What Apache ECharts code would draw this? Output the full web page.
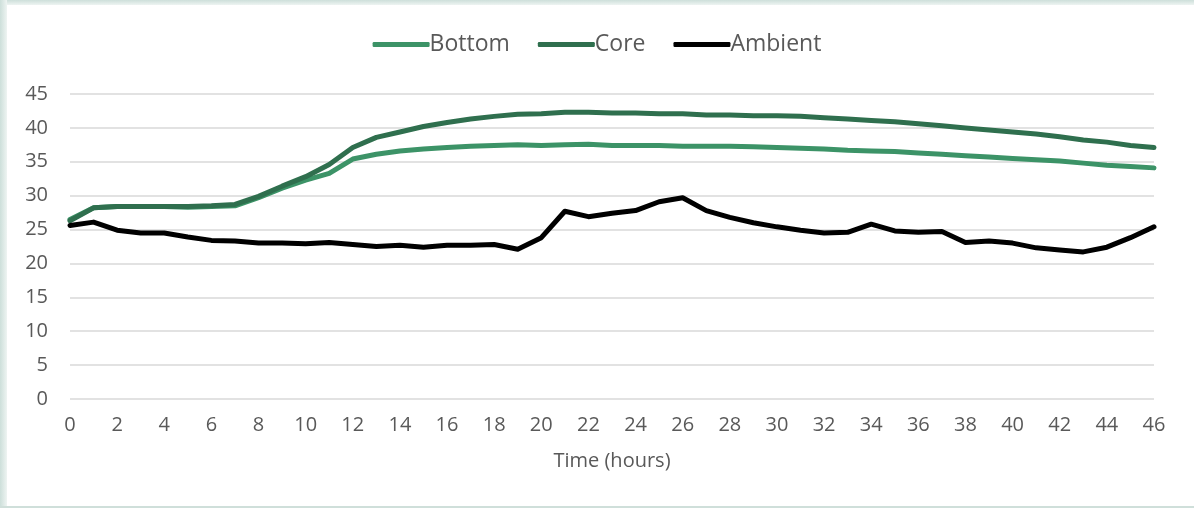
<!DOCTYPE html>
<html><head><meta charset="utf-8">
<script src="https://cdn.jsdelivr.net/npm/echarts@6/dist/echarts.min.js"></script>
<style>
html,body{margin:0;padding:0;background:#fff;}
#wrap{position:relative;width:1194px;height:508px;overflow:hidden;}
#edgeTop{position:absolute;left:0;top:0;width:1194px;height:5px;background:linear-gradient(#cddfda,#eef4f2);}
#edgeLeft{position:absolute;left:0;top:0;width:7px;height:508px;background:linear-gradient(90deg,#cddfda,#eef4f2);}
#edgeBottom{position:absolute;left:0;top:506px;width:1194px;height:2px;background:#cfdfda;}
#chart{position:absolute;left:0;top:0;width:1194px;height:508px;}
</style></head>
<body><div id="wrap"><div id="edgeTop"></div><div id="edgeLeft"></div><div id="edgeBottom"></div><div id="chart"></div></div>
<script>
const hours = [0,1,2,3,4,5,6,7,8,9,10,11,12,13,14,15,16,17,18,19,20,21,22,23,24,25,26,27,28,29,30,31,32,33,34,35,36,37,38,39,40,41,42,43,44,45,46];
const bottom = [26.5,28.2,28.4,28.4,28.4,28.3,28.4,28.5,29.7,31.1,32.3,33.3,35.4,36.1,36.6,36.9,37.1,37.3,37.4,37.5,37.4,37.5,37.6,37.4,37.4,37.4,37.3,37.3,37.3,37.2,37.1,37.0,36.9,36.7,36.6,36.5,36.3,36.1,35.9,35.7,35.5,35.3,35.1,34.8,34.5,34.3,34.1];
const core = [26.3,28.2,28.4,28.4,28.4,28.4,28.5,28.7,29.9,31.4,32.8,34.6,37.1,38.6,39.4,40.2,40.8,41.3,41.7,42.0,42.1,42.3,42.3,42.2,42.2,42.1,42.1,41.9,41.9,41.8,41.8,41.7,41.5,41.3,41.1,40.9,40.6,40.3,40.0,39.7,39.4,39.1,38.7,38.2,37.9,37.4,37.1];
const ambient = [25.6,26.1,24.9,24.5,24.5,23.9,23.4,23.3,23.0,23.0,22.9,23.1,22.8,22.5,22.7,22.4,22.7,22.7,22.8,22.1,23.8,27.7,26.9,27.4,27.8,29.1,29.7,27.8,26.8,26.0,25.4,24.9,24.5,24.6,25.8,24.8,24.6,24.7,23.1,23.3,23.0,22.3,22.0,21.7,22.4,23.8,25.4];
const seriesNames = ['Bottom','Core','Ambient'];
const colors = ['#3c9367','#2f6f4e','#000000'];

const chart = echarts.init(document.getElementById('chart'));
const font = '"Open Sans", Lato, sans-serif';
const pair = arr => hours.map((h,i)=>[h,arr[i]]);
chart.setOption({
  animation:false,
  color: colors,
  textStyle:{fontFamily:font},
  legend:{
    top:28, left:'center',
    itemWidth:57, itemHeight:5, itemGap:28,
    icon:'roundRect',
    textStyle:{fontSize:23,color:'#595959',fontFamily:font,padding:[0,0,0,-5]},
    data:seriesNames
  },
  grid:{left:70,right:40,top:94,bottom:109,containLabel:false},
  xAxis:{
    type:'value',min:0,max:46,interval:2,
    name:'Time (hours)',nameLocation:'middle',nameGap:52,
    nameTextStyle:{fontSize:20,color:'#595959',fontFamily:font},
    axisLine:{show:false},axisTick:{show:false},
    splitLine:{show:false},
    axisLabel:{fontSize:20,color:'#595959',margin:16,fontFamily:font}
  },
  yAxis:{
    type:'value',min:0,max:45,interval:5,
    axisLine:{show:false},axisTick:{show:false},
    splitLine:{lineStyle:{color:'#d9d9d9',width:1.5}},
    axisLabel:{fontSize:20,color:'#595959',margin:22,fontFamily:font}
  },
  series:[
    {name:seriesNames[0],type:'line',data:pair(bottom),showSymbol:false,lineStyle:{width:5,color:colors[0],cap:'round',join:'round'}},
    {name:seriesNames[1],type:'line',data:pair(core),showSymbol:false,lineStyle:{width:5,color:colors[1],cap:'round',join:'round'}},
    {name:seriesNames[2],type:'line',data:pair(ambient),showSymbol:false,lineStyle:{width:5,color:colors[2],cap:'round',join:'round'}}
  ]
});
</script></body></html>
